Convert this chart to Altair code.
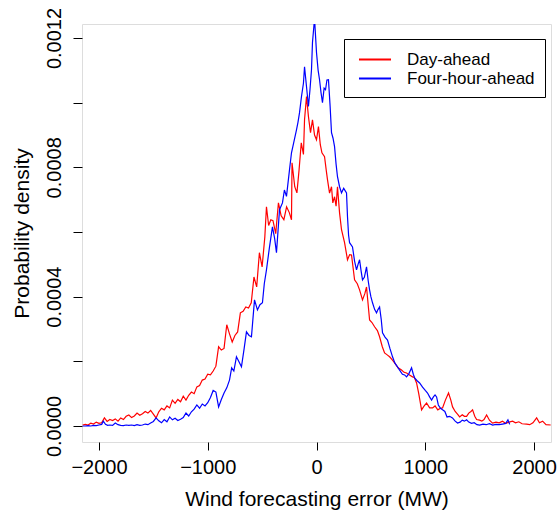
import altair as alt
import pandas as pd

# Day-ahead forecasting error (MW) and density (x1e-4)
red_x = [-2150, -2125, -2100, -2075, -2050, -2025, -2000, -1975, -1950, -1925, -1900, -1875,
         -1850, -1825, -1800, -1775, -1750, -1725, -1700, -1675, -1650, -1625, -1600, -1575,
         -1550, -1525, -1500, -1475, -1450, -1425, -1400, -1375, -1350, -1325, -1300, -1275,
         -1250, -1225, -1200, -1175, -1150, -1125, -1100, -1075, -1050, -1025, -1000, -975,
         -950, -925, -900, -875, -850, -825, -800, -775, -750, -725, -700, -675, -650, -625,
         -600, -575, -550, -525, -500, -475, -460, -440, -420, -400, -375, -350, -325, -300,
         -275, -250, -230, -225, -200, -180, -160, -140, -120, -110, -92, -74, -55, -37, -18,
         0, 18, 35, 50, 74, 90, 101, 120, 138, 150, 166, 180, 193, 212, 230, 258, 285, 305,
         322, 350, 375, 396, 423, 445, 460, 488, 510, 534, 560, 580, 605, 626, 650, 672, 695,
         718, 750, 782, 805, 828, 855, 883, 900, 920, 940, 966, 990, 1012, 1040, 1067, 1090,
         1115, 1140, 1159, 1185, 1214, 1235, 1251, 1275, 1300, 1316, 1340, 1360, 1380, 1400,
         1420, 1435, 1455, 1472, 1500, 1520, 1540, 1564, 1590, 1619, 1650, 1680, 1710, 1740,
         1770, 1803, 1830, 1860, 1890, 1932, 1960, 1990, 2024, 2050, 2079, 2110, 2153]
red_e4 = [0.03, 0.05, 0.03, 0.09, 0.06, 0.12, 0.08, 0.10, 0.25, 0.14, 0.20, 0.17,
          0.22, 0.15, 0.25, 0.20, 0.30, 0.34, 0.26, 0.31, 0.40, 0.33, 0.38, 0.45,
          0.40, 0.48, 0.37, 0.25, 0.44, 0.55, 0.50, 0.62, 0.56, 0.80, 0.70, 0.82,
          0.75, 0.92, 0.80, 0.95, 1.05, 1.00, 1.21, 1.25, 1.42, 1.45, 1.60, 1.58,
          1.70, 1.85, 2.45, 2.35, 2.40, 3.13, 2.85, 2.60, 2.80, 2.91, 3.50, 3.55, 3.68, 3.65,
          3.81, 4.61, 4.30, 5.36, 4.92, 5.85, 6.78, 6.20, 6.38, 6.35, 5.95, 6.90, 6.50, 6.38,
          6.78, 6.60, 6.38, 8.14, 7.40, 7.21, 7.93, 8.76, 8.40, 9.47, 10.19, 9.57, 9.07, 9.47, 9.00,
          8.85, 9.26, 8.70, 8.45, 8.33, 7.90, 7.62, 7.20, 7.40, 6.90, 7.09, 6.80, 7.40, 6.59, 6.07, 5.67, 5.14, 5.30,
          5.29, 4.52, 4.40, 4.21, 3.90, 4.10, 4.30, 3.28, 3.20, 3.07, 2.95, 2.76, 2.45, 2.26, 2.20, 2.14, 2.05,
          1.95, 1.80, 1.73, 1.66, 1.64, 1.58, 1.52, 1.50, 1.33, 1.00, 0.50, 0.62, 0.71, 0.56, 0.56, 0.62,
          0.50, 0.55, 0.56, 0.80, 1.02, 0.80, 0.59, 0.45, 0.35, 0.28, 0.35, 0.30, 0.30, 0.40,
          0.45, 0.50, 0.30, 0.20, 0.18, 0.15, 0.20, 0.34, 0.18, 0.09, 0.12, 0.10, 0.15, 0.08,
          0.12, 0.15, 0.10, 0.13, 0.07, 0.06, 0.04, 0.10, 0.25, 0.10, 0.15, 0.04, 0.03]

# Four-hour-ahead forecasting error (MW) and density (x1e-4)
blue_x = [-2150, -2125, -2100, -2075, -2050, -2025, -2000, -1975, -1960, -1940, -1920, -1900,
          -1875, -1850, -1825, -1800, -1775, -1750, -1725, -1700, -1675, -1650, -1625, -1600,
          -1575, -1550, -1525, -1500, -1475, -1450, -1425, -1400, -1375, -1350, -1325, -1300,
          -1275, -1250, -1225, -1200, -1175, -1150, -1125, -1100, -1075, -1050, -1025, -1000,
          -975, -950, -925, -900, -875, -850, -825, -800, -780, -760, -736, -715, -690, -665,
          -644, -620, -598, -570, -543, -520, -497, -480, -460, -432, -405, -385, -368, -340,
          -313, -295, -276, -248, -230, -210, -184, -170, -156, -138, -120, -110, -92, -74,
          -60, -46, -37, -18, 0, 15, 28, 42, 55, 70, 83, 96, 110, 125, 138, 152, 166, 180,
          193, 212, 230, 250, 276, 285, 295, 304, 331, 350, 368, 382, 396, 410, 423, 440, 460,
          475, 488, 500, 515, 535, 552, 565, 580, 595, 607, 630, 653, 675, 699, 720, 740, 764,
          790, 810, 828, 850, 874, 890, 902, 925, 948, 975, 1000, 1021, 1040, 1058, 1075, 1090,
          1104, 1120, 1140, 1159, 1180, 1200, 1224, 1250, 1275, 1297, 1320, 1340, 1360, 1380,
          1400, 1425, 1450, 1475, 1500, 1530, 1560, 1590, 1620, 1650, 1680, 1710, 1740, 1760, 1776]
blue_e4 = [0.0, 0.0, 0.01, 0.0, 0.02, 0.01, 0.03, 0.05, 0.15, 0.05, 0.02, 0.03,
           0.02, 0.09, 0.04, 0.02, 0.01, 0.03, 0.02, 0.03, 0.01, 0.04, 0.02, 0.03,
           0.06, 0.04, 0.09, 0.14, 0.25, 0.16, 0.10, 0.20, 0.13, 0.28, 0.19, 0.24,
           0.17, 0.21, 0.26, 0.40, 0.31, 0.44, 0.52, 0.65, 0.55, 0.68, 0.62, 0.72,
           0.88, 1.10, 1.05, 0.59, 0.82, 1.02, 1.18, 1.42, 1.80, 1.70, 2.14, 2.00, 1.83, 2.40,
           2.91, 2.80, 2.76, 3.90, 3.59, 3.75, 3.81, 4.40, 4.83, 5.54, 6.16, 5.80, 5.36, 6.69,
           6.90, 7.30, 7.10, 7.93, 8.45, 8.76, 9.16, 9.40, 9.69, 10.19, 10.60, 11.11, 10.50, 9.88,
           10.40, 11.02, 11.86, 12.60, 11.55, 11.00, 10.71, 10.30, 10.00, 10.45, 10.40, 10.70, 10.71, 9.90, 9.07, 8.90, 8.64, 8.10,
           7.71, 7.40, 7.21, 7.35, 7.21, 6.47, 5.90, 5.67, 5.54, 5.10, 4.83, 5.00, 5.14, 4.80, 4.52, 4.60, 4.92,
           4.50, 4.21, 4.00, 3.81, 3.60, 3.50, 3.60, 3.68, 3.30, 2.88, 2.75, 2.66, 2.40, 2.14, 1.95, 1.85, 1.73,
           1.60, 1.58, 1.52, 1.62, 1.80, 1.60, 1.49, 1.40, 1.33, 1.20, 1.10, 1.02, 0.90, 0.80, 0.90, 0.96,
           0.90, 0.65, 0.55, 0.50, 0.45, 0.28, 0.30, 0.25, 0.15, 0.09, 0.12, 0.18, 0.15, 0.19,
           0.12, 0.08, 0.10, 0.04, 0.03, 0.06, 0.04, 0.07, 0.03, 0.05, 0.04, 0.06, 0.08, 0.19, 0.05]

series_names = ["Day-ahead", "Four-hour-ahead"]
series_colors = ["#FF0000", "#0000FF"]

x_ticks = [-2000, -1000, 0, 1000, 2000]
y_ticks = [0.0, 0.0002, 0.0004, 0.0006, 0.0008, 0.0010, 0.0012]

rows = []
for i, (xv, dv) in enumerate(zip(red_x, red_e4)):
    rows.append({"series": series_names[0], "err": xv, "dens": dv * 1e-4, "idx": i})
for i, (xv, dv) in enumerate(zip(blue_x, blue_e4)):
    rows.append({"series": series_names[1], "err": xv, "dens": dv * 1e-4, "idx": i})
df = pd.DataFrame(rows)

FONT = "Liberation Sans"

chart = alt.Chart(df).mark_line(strokeWidth=1.2, clip=True).encode(
    x=alt.X("err:Q",
            scale=alt.Scale(domain=[-2156, 2156], nice=False, zero=False),
            axis=alt.Axis(values=x_ticks, title="Wind forecasting error (MW)",
                          format="d", grid=False, domain=False,
                          tickSize=8, tickColor="black", tickWidth=1,
                          labelFontSize=20, labelFont=FONT, labelColor="black",
                          labelPadding=7, labelFlush=False,
                          titleFontSize=21, titleFont=FONT, titleFontWeight="normal",
                          titleColor="black", titlePadding=11)),
    y=alt.Y("dens:Q",
            scale=alt.Scale(domain=[-0.0000495, 0.0012433], nice=False, zero=False),
            axis=alt.Axis(values=y_ticks, title="Probability density",
                          labelExpr="(round(datum.value*10000) % 4 == 0) ? format(datum.value, '.4f') : ''",
                          grid=False, domain=False,
                          tickSize=9, tickColor="black", tickWidth=1,
                          labelFontSize=20, labelFont=FONT, labelColor="black",
                          labelAngle=270, labelAlign="center", labelBaseline="bottom",
                          labelPadding=9, labelFlush=False,
                          titleFontSize=21, titleFont=FONT, titleFontWeight="normal",
                          titleColor="black", titlePadding=12)),
    color=alt.Color("series:N",
                    scale=alt.Scale(domain=series_names, range=series_colors),
                    legend=alt.Legend(title=None, orient="none", legendX=262, legendY=15,
                                      direction="vertical",
                                      symbolType="M-0.58,0H2.79", symbolSize=361,
                                      symbolStrokeWidth=2,
                                      labelFontSize=17, labelFont=FONT, labelColor="black",
                                      labelOffset=32, padding=10, rowPadding=0,
                                      strokeColor="black", fillColor="white")),
    order=alt.Order("idx:Q"),
).properties(
    width=469, height=418,
    padding={"left": 82, "top": 24, "right": 8, "bottom": 73},
    autosize=alt.AutoSizeParams(type="none"),
).configure_view(
    stroke="black", strokeWidth=1.3
).configure_legend(
    strokeWidth=1
).configure(background="white")

chart.save("out.html", embed_options={"renderer": "svg", "actions": False})
